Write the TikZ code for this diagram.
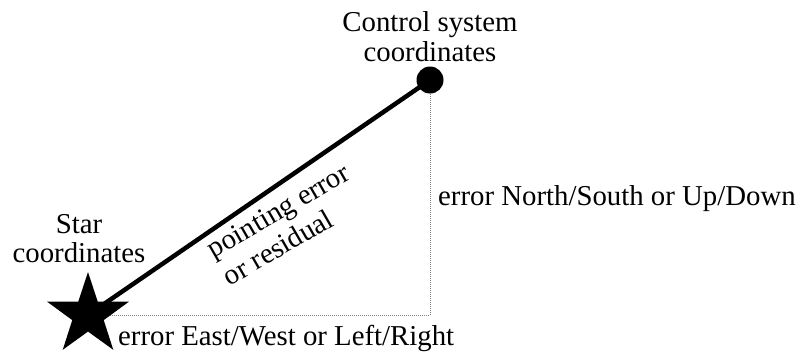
\documentclass[tikz,border=0pt]{standalone}
\usepackage{fontspec}
\setmainfont{Liberation Serif}
\usetikzlibrary{positioning}
\usetikzlibrary{shapes.geometric}
\usetikzlibrary{backgrounds}
\tikzstyle{starnode} = [star, star points=5, star point ratio=2.6, minimum size=86pt, inner sep=0pt, fill=black]
\tikzstyle{dotnode} = [circle, minimum size=27pt, inner sep=0pt, fill=black]
\tikzstyle{txtnode} = [inner sep=0pt, align=center]
\tikzstyle{pointer} = [line width=4.5pt]
\tikzstyle{guide} = [gray, densely dotted, line width=1pt]

\begin{document}
\begin{tikzpicture}[x=1pt, y=-1pt, font=\fontsize{28.8}{29.5}\selectfont]
  \useasboundingbox (0,0) rectangle (802,351);

  \node[starnode] (star) at (88,315) {};
  \node[dotnode] (ctrl) at (430,80) {};

  \node[txtnode, above=4.5pt of ctrl] (ctrltext) {Control system\\coordinates};
  \node[txtnode, anchor=south] (startext) at (79,263) {Star\\coordinates};
  \node[txtnode, anchor=base west] (nstext) at (438,205) {error North/South or Up/Down};
  \node[txtnode, anchor=base west] (ewtext) at (118,345) {error East/West or Left/Right};
  \node[txtnode, align=left, anchor=north west, rotate=30, font=\fontsize{28.8}{32}\selectfont]
    (restext) at (204,242) {pointing error\\or residual};

  \begin{pgfonlayer}{background}
    \draw[guide] (star.center) -| (ctrl.center);
    \draw[pointer] (star.center) -- (ctrl.center);
  \end{pgfonlayer}
\end{tikzpicture}
\end{document}
